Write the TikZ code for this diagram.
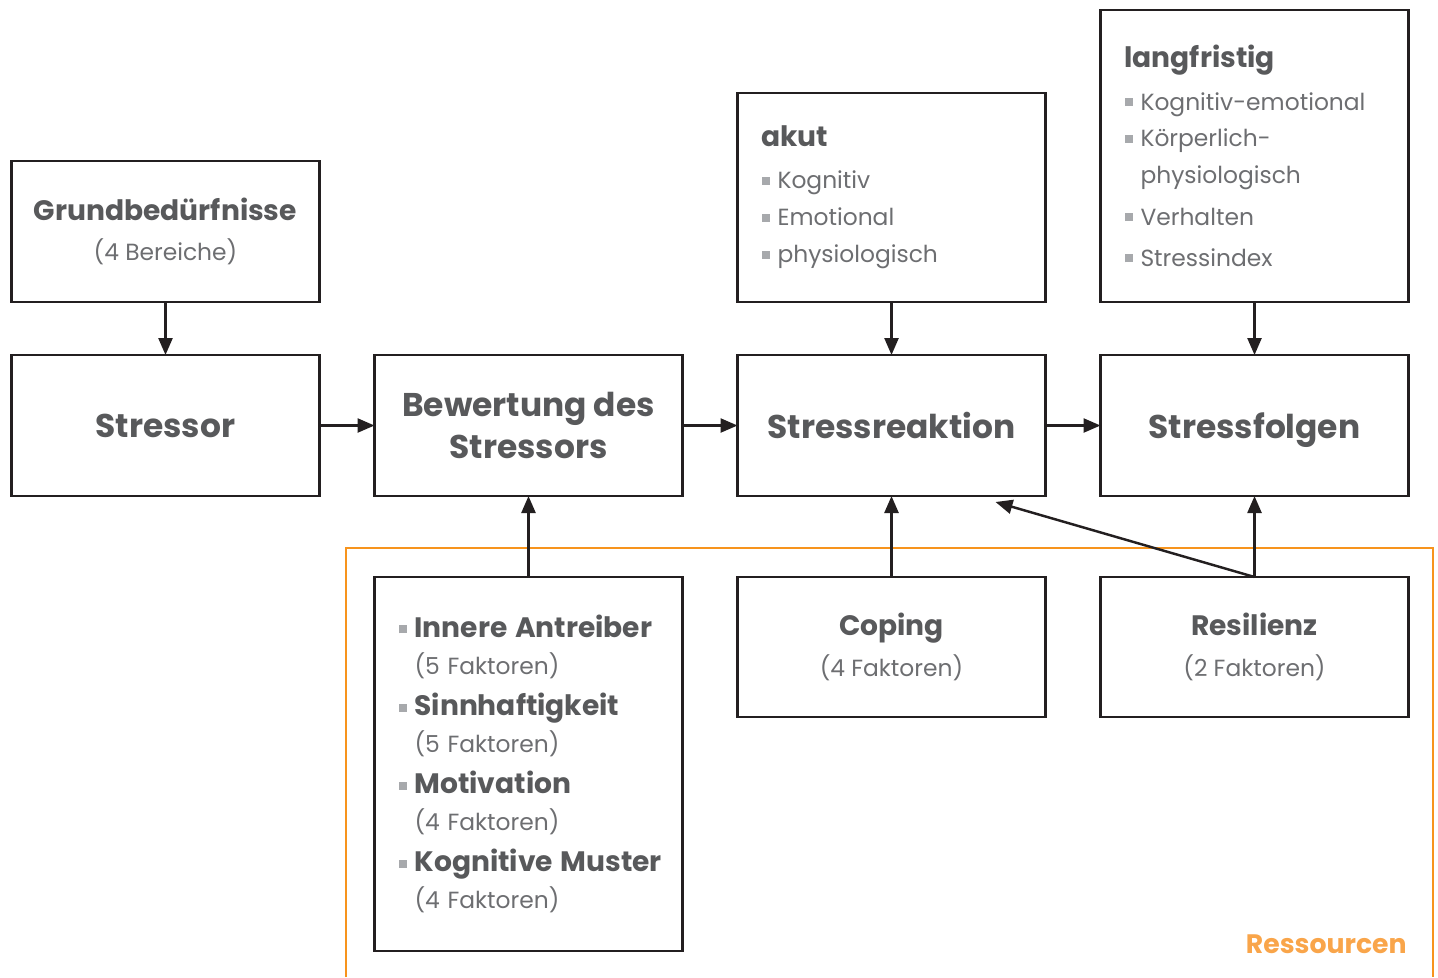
\documentclass[tikz,border=0pt]{standalone}
\usepackage{fontspec}
\setmainfont{Poppins}
\usepackage{xcolor}
\usepackage{tikz}
\usetikzlibrary{arrows.meta, positioning, calc}

\definecolor{boxline}{HTML}{231F20}
\definecolor{textdark}{HTML}{58595B}
\definecolor{textlight}{HTML}{6D6E71}
\definecolor{bulletgray}{HTML}{A7A9AC}
\definecolor{resorange}{HTML}{F7941D}
\definecolor{reslabel}{HTML}{F9A54A}

\newcommand{\sqbul}{\textcolor{bulletgray}{\rule[0.17em]{0.16cm}{0.16cm}}\hspace{0.16cm}}
\newcommand{\sqind}{\hspace*{0.32cm}}
\newcommand{\hd}[1]{{\fontsize{16}{21}\selectfont\bfseries\color{textdark}#1}}

\begin{document}
\begin{tikzpicture}[
  node distance=1.1cm,
  box/.style={rectangle, draw=boxline, line width=1.4pt, align=center, minimum width=6.16cm, minimum height=2.82cm, inner sep=0pt, outer sep=0pt},
  mainbox/.style={box, font=\fontsize{18.7}{24}\selectfont\bfseries, text=textdark},
  subbox/.style={box, font=\fontsize{13.3}{23}\selectfont, text=textlight},
  listbox/.style={box, align=left, text width=5.2cm, font=\fontsize{13.3}{21}\selectfont, text=textlight},
  arr/.style={-{Triangle[length=0.34cm, width=0.28cm]}, line width=1.4pt, draw=boxline}
]
\useasboundingbox (0,0) rectangle (28.76,-19.54);

% Main row
\node[mainbox] (stressor) at (3.31,-8.51) {Stressor};
\node[mainbox, right=of stressor] (bewertung) {Bewertung des\\Stressors};
\node[mainbox, right=of bewertung] (reaktion) {Stressreaktion};
\node[mainbox, text depth=0pt, right=of reaktion] (folgen) {Stressfolgen};

% Upper row
\node[subbox, above=1.06cm of stressor] (grund) {\hd{Grundbedürfnisse}\\(4 Bereiche)};
\node[listbox, minimum height=4.18cm, above=1.06cm of reaktion] (akut) {\hd{akut}\\[3pt]
  \sqbul Kognitiv\\
  \sqbul Emotional\\
  \sqbul physiologisch};
\node[listbox, minimum height=5.84cm, above=1.06cm of folgen] (lang) {\hd{langfristig}\\[3pt]
  \sqbul Kognitiv-emotional\\
  \sqbul Körperlich-\\
  \sqind physiologisch\\[2.5pt]
  \sqbul Verhalten\\[2.5pt]
  \sqbul Stressindex};

% Resources
\draw[resorange, line width=1.1pt] (6.92,-19.54) |- (28.66,-10.96) -- (28.66,-19.54);
\node[listbox, minimum height=7.48cm, below=1.62cm of bewertung] (innere) {\sqbul\hd{Innere Antreiber}\\
  \sqind(5 Faktoren)\\[2.5pt]
  \sqbul\hd{Sinnhaftigkeit}\\
  \sqind(5 Faktoren)\\[2.5pt]
  \sqbul\hd{Motivation}\\
  \sqind(4 Faktoren)\\[2.5pt]
  \mbox{\sqbul\hd{Kognitive Muster}}\\
  \sqind(4 Faktoren)};
\node[subbox, minimum height=2.8cm, below=1.62cm of reaktion] (coping) {\hd{Coping}\\(4 Faktoren)};
\node[subbox, minimum height=2.8cm, below=1.62cm of folgen] (resilienz) {\hd{Resilienz}\\(2 Faktoren)};
\node[anchor=base east, inner sep=0pt, text=reslabel, font=\fontsize{15.2}{20}\selectfont\bfseries] (ressourcen) at (28.14,-19.06) {Ressourcen};

\coordinate (reaktionhit) at ($(reaktion.south east)+(-1.0,-0.12)$);

% Arrows
\draw[arr] (grund) -- (stressor);
\draw[arr] (stressor) -- (bewertung);
\draw[arr] (bewertung) -- (reaktion);
\draw[arr] (reaktion) -- (folgen);

\draw[arr] (akut) -- (reaktion);
\draw[arr] (lang) -- (folgen);

\draw[arr] (innere) -- (bewertung);
\draw[arr] (coping) -- (reaktion);
\draw[arr] (resilienz) -- (folgen);
\draw[arr] (resilienz.north) -- (reaktionhit);

\end{tikzpicture}
\end{document}
